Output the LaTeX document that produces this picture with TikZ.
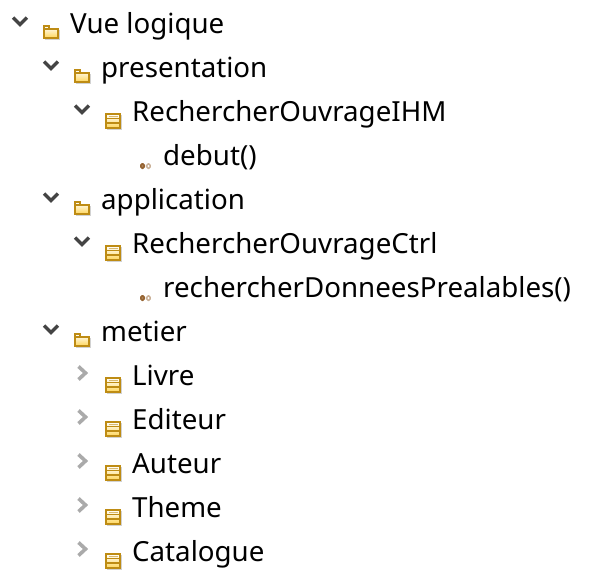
\documentclass[tikz,border=0pt]{standalone}
\usepackage{fontspec}
\setmainfont{Noto Sans}
\usetikzlibrary{positioning}
\definecolor{bordure}{RGB}{190,140,20}
\definecolor{jaune}{RGB}{255,214,90}
\definecolor{ombre}{RGB}{210,210,210}
\definecolor{fleche}{RGB}{68,68,68}
\definecolor{flechegris}{RGB}{170,170,170}
\definecolor{methode}{RGB}{150,100,50}

\tikzset{
	label/.style = {anchor = base west, inner sep = 0pt, font = \fontsize{27.7}{30}\selectfont},
	ouvert/.pic = {\draw[fleche, line width = 3.4pt] (-7,-4) -- (0,3) -- (7,-4);},
	ferme/.pic = {\draw[flechegris, line width = 3.6pt] (-3.5,-6.5) -- (3.5,0) -- (-3.5,6.5);},
	dossier/.pic = {
		\fill[ombre] (1,4) rectangle (15.5,13.5);
		\draw[bordure, line width = 1.1pt, top color = white, bottom color = jaune]
			(0,3) -- (0,0) -- (5,0) -- (5,3) -- (14,3) -- (14,12) -- (0,12) -- cycle;
		\draw[bordure, line width = 1.1pt] (0,3) -- (5,3);
	},
	classe/.pic = {
		\fill[ombre] (1,1) rectangle (15.5,15.5);
		\draw[bordure, line width = 1.1pt, top color = white, bottom color = jaune] (0,0) rectangle (14,14);
		\draw[bordure, line width = 1.1pt] (0,4.5) -- (14,4.5) (0,9) -- (14,9);
		\draw[bordure!60, line width = .7pt] (2.5,2.2) -- (11.5,2.2);
	},
	operation/.pic = {
		\draw[methode, fill = methode!80, line width = 1.6pt, rounded corners = 1.5pt] (.8,.8) rectangle (4.2,5.4);
		\draw[methode!50, line width = 1.5pt, rounded corners = 1.5pt] (6.8,.8) rectangle (10.2,5.4);
	}
}

\begin{document}
\begin{tikzpicture}[x = 1pt, y = -1pt]
	\useasboundingbox (0,0) rectangle (613,571);

	% Racine
	\pic at (20,21.5) {ouvert};
	\pic at (44,26) {dossier};
	\node[label] (vue) at (70,33) {Vue logique};

	% presentation
	\pic at (51,65.5) {ouvert};
	\pic at (75,70) {dossier};
	\node[label] (presentation) at (101,77) {presentation};
	\pic at (82,109.5) {ouvert};
	\pic at (106,114) {classe};
	\node[label] (ihm) at (132,121) {RechercherOuvrageIHM};
	\pic at (140,163) {operation};
	\node[label] (debut) at (163,165) {debut()};

	% application
	\pic at (51,197.5) {ouvert};
	\pic at (75,202) {dossier};
	\node[label] (application) at (101,209) {application};
	\pic at (82,241.5) {ouvert};
	\pic at (106,246) {classe};
	\node[label] (ctrl) at (132,253) {RechercherOuvrageCtrl};
	\pic at (140,295) {operation};
	\node[label] (prealables) at (163,297) {rechercherDonneesPrealables()};

	% metier
	\pic at (51,329.5) {ouvert};
	\pic at (75,334) {dossier};
	\node[label] (metier) at (101,341) {metier};
	\pic at (82,373) {ferme};
	\pic at (106,378) {classe};
	\node[label] (livre) at (132,385) {Livre};
	\pic at (82,417) {ferme};
	\pic at (106,422) {classe};
	\node[label] (editeur) at (132,429) {Editeur};
	\pic at (82,461) {ferme};
	\pic at (106,466) {classe};
	\node[label] (auteur) at (132,473) {Auteur};
	\pic at (82,505) {ferme};
	\pic at (106,510) {classe};
	\node[label] (theme) at (132,517) {Theme};
	\pic at (82,549) {ferme};
	\pic at (106,554) {classe};
	\node[label] (catalogue) at (132,561) {Catalogue};
\end{tikzpicture}
\end{document}
